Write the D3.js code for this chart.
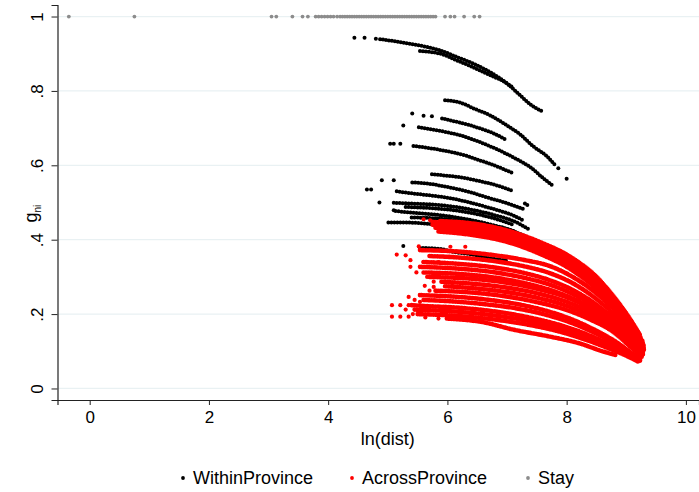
<!DOCTYPE html>
<html>
<head>
<meta charset="utf-8">
<script src="https://cdn.jsdelivr.net/npm/d3@7"></script>
<style>
  body { margin: 0; background: #fff; }
  text { font-family: "Liberation Sans", Arial, sans-serif; fill: #000; }
</style>
</head>
<body>
<div id="chart"></div>
<script>
// values: x = ln(dist), y = g_ni
var stayX = [-0.35, 0.75, 3.05, 3.13, 3.40, 3.57, 3.66, 3.79, 3.84, 3.89, 3.94, 3.99, 4.04, 4.09, 4.15,
    4.20, 4.24, 4.28, 4.32, 4.36, 4.40, 4.44, 4.48, 4.52, 4.56, 4.60, 4.64, 4.68, 4.72, 4.76, 4.80,
    4.84, 4.88, 4.92, 4.96, 5.00, 5.04, 5.08, 5.12, 5.16, 5.20, 5.24, 5.28, 5.32, 5.36, 5.40, 5.44,
    5.48, 5.52, 5.56, 5.60, 5.64, 5.68, 5.72, 5.76, 5.80, 5.96, 6.05, 6.12, 6.28, 6.45, 6.54];

var withinArcs = [
    [[4.87, .939], [5.10, .934], [5.35, .927], [5.60, .920], [5.88, .909], [6.16, .891], [6.44, .873], [6.72, .850], [7.00, .820], [7.22, .788], [7.39, .764], [7.58, .746]],
    [[5.54, .907], [5.88, .900], [6.16, .882], [6.44, .863], [6.72, .842], [6.94, .826], [7.11, .808]],
    [[5.96, .775], [6.21, .769], [6.44, .753], [6.72, .734], [7.00, .707], [7.22, .683], [7.44, .651], [7.67, .624], [7.80, .602]],
    [[5.91, .726], [6.10, .719], [6.33, .710], [6.55, .699], [6.77, .686], [6.97, .670]],
    [[5.52, .702], [5.71, .697], [5.99, .689], [6.27, .678], [6.55, .662], [6.83, .643], [7.11, .621], [7.39, .595], [7.61, .565], [7.78, .544]],
    [[5.43, .652], [5.71, .646], [5.99, .638], [6.27, .628], [6.55, .613], [6.83, .597], [7.11, .578]],
    [[5.74, .576], [5.93, .573], [6.21, .568], [6.55, .557], [6.83, .546], [7.11, .530]],
    [[5.41, .554], [5.66, .551], [5.99, .542], [6.33, .530], [6.66, .514], [7.00, .498], [7.27, .483]],
    [[5.15, .530], [5.49, .523], [5.82, .517], [6.16, .508], [6.49, .495], [6.83, .480], [7.11, .465], [7.27, .452]],
    [[5.10, .499], [5.43, .497], [5.88, .493], [6.33, .483], [6.77, .467], [7.11, .450], [7.39, .426]],
    [[5.30, .488], [5.88, .483], [6.33, .474], [6.77, .458], [7.11, .440]],
    [[5.13, .477], [5.32, .474], [5.54, .471], [5.88, .466], [6.33, .455], [6.77, .439], [7.11, .423], [7.33, .404], [7.55, .388]],
    [[5.40, .460], [6.00, .455], [6.50, .444], [7.00, .428], [7.30, .410]],
    [[5.01, .446], [5.32, .446], [5.66, .443], [6.10, .436], [6.55, .424], [6.88, .411], [7.11, .391]],
    [[5.54, .378], [5.88, .375], [6.10, .367], [6.38, .361], [6.72, .350], [7.00, .344]]
];
var withinDots = [[4.44, .943], [4.61, .943], [4.80, .940], [7.86, .592], [8.00, .564], [5.41, .739], [5.60, .733],
    [5.74, .732], [5.26, .707], [5.04, .658], [5.10, .658], [5.21, .658], [7.30, .497], [7.34, .493],
    [4.65, .535], [4.72, .535], [4.90, .560], [5.10, .560], [4.86, .500], [5.10, .479], [5.26, .383]];

var acrossArcs = [
    [[5.88, .450], [6.40, .444], [7.00, .425], [7.55, .394], [8.10, .350], [8.50, .300], [8.80, .245], [9.05, .190], [9.23, .144]],
    [[5.75, .448], [6.40, .437], [7.00, .418], [7.55, .386], [8.10, .341], [8.50, .290], [8.80, .236], [9.05, .180], [9.25, .135]],
    [[5.75, .440], [6.40, .429], [7.00, .410], [7.55, .378], [8.10, .333], [8.50, .282], [8.80, .228], [9.05, .172], [9.27, .128]],
    [[5.80, .432], [6.40, .422], [7.00, .403], [7.55, .371], [8.10, .325], [8.50, .274], [8.80, .220], [9.05, .165], [9.29, .120]],
    [[5.85, .422], [6.40, .413], [7.00, .394], [7.55, .362], [8.10, .317], [8.50, .266], [8.80, .213], [9.05, .158], [9.30, .115]],
    [[5.54, .372], [6.20, .368], [6.80, .358], [7.30, .345], [7.70, .330], [8.10, .300], [8.50, .255], [8.80, .210], [9.05, .160], [9.30, .108]],
    [[5.70, .356], [6.20, .352], [6.80, .342], [7.30, .328], [7.70, .311], [8.10, .283], [8.50, .240], [8.80, .197], [9.05, .152], [9.30, .104]],
    [[5.60, .340], [6.20, .335], [6.80, .325], [7.30, .310], [7.70, .292], [8.10, .265], [8.50, .225], [8.80, .185], [9.05, .143], [9.30, .100]],
    [[5.54, .327], [6.20, .322], [6.80, .312], [7.30, .297], [7.70, .280], [8.10, .254], [8.50, .216], [8.80, .178], [9.05, .137], [9.29, .096]],
    [[5.60, .312], [6.20, .308], [6.80, .298], [7.30, .283], [7.70, .266], [8.10, .242], [8.50, .206], [8.80, .170], [9.05, .131], [9.29, .094]],
    [[5.70, .300], [6.40, .295], [7.00, .284], [7.50, .268], [8.00, .245], [8.40, .215], [8.80, .172], [9.05, .133], [9.28, .093]],
    [[5.90, .287], [6.40, .282], [7.00, .271], [7.50, .256], [8.00, .233], [8.40, .205], [8.80, .165], [9.05, .128], [9.28, .092]],
    [[5.96, .275], [6.40, .270], [7.00, .259], [7.50, .244], [8.00, .222], [8.40, .195], [8.80, .157], [9.05, .121], [9.27, .088]],
    [[5.80, .263], [6.40, .258], [7.00, .247], [7.50, .232], [8.00, .211], [8.40, .185], [8.80, .150], [9.05, .115], [9.26, .085]],
    [[5.54, .251], [6.00, .248], [6.60, .240], [7.20, .226], [7.70, .207], [8.10, .185], [8.50, .155], [8.80, .128], [9.05, .100], [9.25, .078]],
    [[5.60, .238], [6.00, .235], [6.60, .227], [7.20, .214], [7.70, .196], [8.10, .175], [8.50, .147], [8.80, .121], [9.05, .095], [9.24, .074]],
    [[5.40, .224], [5.60, .222], [6.20, .217], [6.80, .207], [7.40, .190], [7.90, .170], [8.30, .148], [8.70, .120], [9.00, .096], [9.23, .075]],
    [[5.45, .212], [6.20, .206], [6.80, .196], [7.40, .180], [7.90, .161], [8.30, .140], [8.70, .114], [9.00, .092], [9.22, .073]],
    [[5.50, .200], [6.20, .195], [6.80, .185], [7.40, .170], [7.90, .152], [8.30, .132], [8.70, .108], [9.00, .088], [9.20, .072]],
    [[5.99, .188], [6.60, .178], [7.11, .158], [7.70, .140], [8.22, .121], [8.60, .100], [8.84, .089]]
];
var acrossDots = [[5.38, .345], [5.38, .327], [5.60, .340], [5.85, .340], [5.77, .287], [5.77, .273], [5.96, .287],
    [6.08, .282], [5.54, .251], [5.54, .233], [5.35, .246], [5.07, .224], [5.21, .224], [5.35, .224],
    [5.07, .193], [5.21, .193], [5.35, .193], [5.63, .191], [5.85, .188], [5.52, .382], [5.60, .455],
    [5.71, .452], [6.05, .381], [6.30, .381], [5.66, .300], [5.48, .312], [5.70, .263], [5.45, .238],
    [5.62, .276], [5.30, .212], [5.42, .200], [5.15, .360], [5.30, .358]];

var xTicks = [0, 2, 4, 6, 8, 10];
var yTicks = [0, .2, .4, .6, .8, 1];
var yTickLabels = ['0', '.2', '.4', '.6', '.8', '1'];
var legendLabels = ['WithinProvince', 'AcrossProvince', 'Stay'];
var legendColors = ['#000000', '#ff0000', '#8c8c8c'];

var width = 699, height = 492;

var svg = d3.select('#chart')
    .append('svg')
    .attr('width', width)
    .attr('height', height);

var x = d3.scaleLinear().domain([-0.54, 10.22]).range([57.5, 699]);
var y = d3.scaleLinear().domain([-0.031, 1.031]).range([400, 5]);

// grid
svg.selectAll('.grid')
    .data(yTicks)
    .enter()
    .append('line')
    .attr('x1', 58)
    .attr('x2', width)
    .attr('y1', function(d) { return y(d); })
    .attr('y2', function(d) { return y(d); })
    .attr('stroke', '#e9f1f3')
    .attr('stroke-width', 1.2);

var line = d3.line()
    .x(function(d) { return x(d[0]); })
    .y(function(d) { return y(d[1]); })
    .curve(d3.curveMonotoneX);

// within province
svg.selectAll('.within')
    .data(withinArcs)
    .enter()
    .append('path')
    .attr('d', line)
    .attr('fill', 'none')
    .attr('stroke', '#000')
    .attr('stroke-width', 4)
    .attr('stroke-linecap', 'round')
    .attr('stroke-dasharray', '0 3');

svg.selectAll('.withinDot')
    .data(withinDots)
    .enter()
    .append('circle')
    .attr('cx', function(d) { return x(d[0]); })
    .attr('cy', function(d) { return y(d[1]); })
    .attr('r', 2)
    .attr('fill', '#000');

// across province
svg.selectAll('.across')
    .data(acrossArcs)
    .enter()
    .append('path')
    .attr('d', line)
    .attr('fill', 'none')
    .attr('stroke', '#ff0000')
    .attr('stroke-width', 4.6)
    .attr('stroke-linecap', 'round')
    .attr('stroke-dasharray', '0 1.6');

svg.selectAll('.acrossDot')
    .data(acrossDots)
    .enter()
    .append('circle')
    .attr('cx', function(d) { return x(d[0]); })
    .attr('cy', function(d) { return y(d[1]); })
    .attr('r', 2.1)
    .attr('fill', '#ff0000');

// stay
svg.selectAll('.stay')
    .data(stayX)
    .enter()
    .append('circle')
    .attr('cx', function(d) { return x(d); })
    .attr('cy', y(1))
    .attr('r', 1.9)
    .attr('fill', '#8c8c8c');

// axes
var xAxis = svg.append('g')
    .attr('transform', 'translate(0,400)')
    .call(d3.axisBottom(x).tickValues(xTicks).tickSize(5).tickPadding(6).tickFormat(d3.format('d')));
xAxis.select('.domain').attr('stroke', '#222').attr('stroke-width', 1.2);
xAxis.selectAll('.tick line').attr('stroke', '#222');
xAxis.selectAll('text').style('font-size', '17px');

var yAxis = svg.append('g')
    .attr('transform', 'translate(57.5,0)')
    .call(d3.axisLeft(y).tickValues(yTicks).tickSize(6).tickFormat(function(d, i) { return yTickLabels[i]; }));
yAxis.select('.domain').attr('stroke', '#222').attr('stroke-width', 1.2);
yAxis.selectAll('.tick line').attr('stroke', '#222');
yAxis.selectAll('text')
    .style('font-size', '17px')
    .attr('x', 0).attr('dy', 0)
    .attr('text-anchor', 'middle')
    .attr('transform', 'translate(-15,0) rotate(-90)');

// axis titles
svg.append('text')
    .attr('x', x(5))
    .attr('y', 445)
    .attr('text-anchor', 'middle')
    .style('font-size', '18px')
    .text('ln(dist)');

var yTitle = svg.append('text')
    .attr('transform', 'translate(37,' + y(0.47) + ') rotate(-90)')
    .attr('text-anchor', 'middle')
    .style('font-size', '18px');
yTitle.append('tspan').text('g');
yTitle.append('tspan').attr('dy', 4).style('font-size', '10px').text('ni');

// legend
var legendX = [183, 352, 528];
var legend = svg.selectAll('.legend')
    .data(legendLabels)
    .enter()
    .append('g')
    .attr('transform', function(d, i) { return 'translate(' + legendX[i] + ',478)'; });
legend.append('circle')
    .attr('r', 1.9)
    .attr('fill', function(d, i) { return legendColors[i]; });
legend.append('text')
    .attr('x', 10)
    .attr('dy', '0.35em')
    .style('font-size', '18px')
    .text(function(d) { return d; });
</script>
</body>
</html>
